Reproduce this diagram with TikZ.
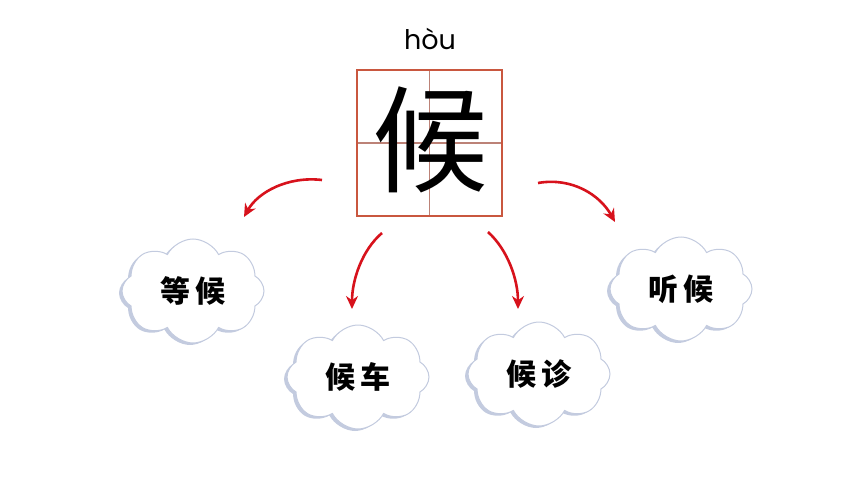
\documentclass[tikz,border=0pt]{standalone}
\usepackage{tikz}
\usepackage{xcolor}
\usepackage{fontspec}
\newfontfamily\cjk{Noto Sans CJK SC}
\newfontfamily\pinyin{Poppins}
\usetikzlibrary{shadows,shapes.symbols,arrows.meta}

\definecolor{gridred}{HTML}{C9573F}
\definecolor{gridline}{HTML}{BC8277}
\definecolor{arrowred}{HTML}{D7121C}
\definecolor{cloudblue}{HTML}{C3CBDF}

\tikzset{
  puff/.style={cloud, cloud puffs=8, cloud puff arc=125, aspect=1.4,
    draw=cloudblue, line width=1pt, fill=white,
    minimum width=142pt, minimum height=104pt,
    drop shadow={shadow xshift=-3pt, shadow yshift=-2pt, fill=cloudblue, opacity=1},
    font=\cjk\bfseries\fontsize{30}{32}\selectfont},
  turn/.style={draw=arrowred, line width=2.6pt, -{Stealth[length=13pt,width=12pt]}},
}

\begin{document}
\begin{tikzpicture}[x=1pt, y=-1pt]
  \useasboundingbox (0,0) rectangle (860,484);

  % pinyin and the character box
  \node[font=\pinyin\fontsize{27}{30}\selectfont, anchor=base] (py) at (430,50) {hòu};
  \draw[gridline, line width=1.5pt] (429.5,70) -- (429.5,216) (357,143) -- (502,143);
  \draw[gridred, line width=2pt] (357,70) rectangle (502,216);
  \node[font=\cjk\fontsize{116}{116}\selectfont] (hou) at (430,140) {候};

  % the four words
  \node[puff] (dh) at (193,291) {等\,候};
  \node[puff] (hc) at (358,377) {候\,车};
  \node[puff] (hz) at (539,374) {候\,诊};
  \node[puff] (th) at (681,289) {听\,候};

  % arrow ends
  \coordinate (a1) at (322,180);
  \coordinate (b1) at (244,217);
  \coordinate (a2) at (382,233);
  \coordinate (b2) at (352,309);
  \coordinate (a3) at (488,232);
  \coordinate (b3) at (518,309);
  \coordinate (a4) at (538,183);
  \coordinate (b4) at (615,222);

  \draw[turn] (a1) .. controls (288,176) and (258,192) .. (b1);
  \draw[turn] (a2) .. controls (362,250) and (352,280) .. (b2);
  \draw[turn] (a3) .. controls (508,250) and (518,280) .. (b3);
  \draw[turn] (a4) .. controls (572,177) and (600,195) .. (b4);
\end{tikzpicture}
\end{document}
